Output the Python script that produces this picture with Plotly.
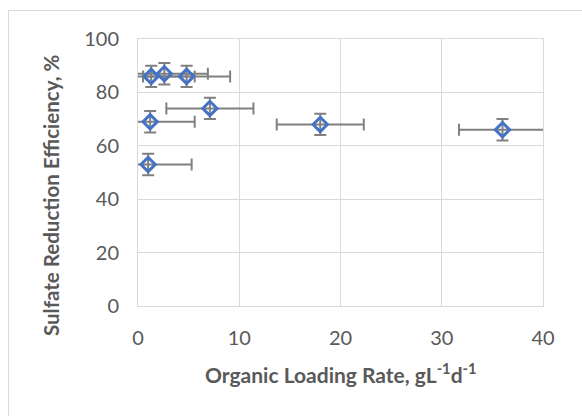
import plotly.graph_objects as go

# Data
olr = [1.3, 2.6, 4.8, 1.2, 7.1, 1.0, 18.0, 36.0]          # Organic loading rate, g/L/d
sre = [86, 87, 86, 69, 74, 53, 68, 66]                    # Sulfate reduction efficiency, %
olr_err = [4.3, 4.3, 4.3, 4.4, 4.3, 4.3, 4.3, 4.3]
sre_err = [4, 4, 4, 4, 4, 4, 4, 4]
x_ticks = [0, 10, 20, 30, 40]
y_ticks = [0, 20, 40, 60, 80, 100]

FONT = "Lato"
GREY = "#595959"
GRID = "#d9d9d9"

fig = go.Figure()
fig.add_trace(go.Scatter(
    x=olr, y=sre, mode="markers",
    marker=dict(symbol="diamond-open", size=11, color="#4472C4",
                line=dict(width=3, color="#4472C4")),
    error_x=dict(type="data", array=olr_err, color="#808080", thickness=2, width=6),
    error_y=dict(type="data", array=sre_err, color="#808080", thickness=2, width=6),
    showlegend=False,
))

axis_common = dict(showgrid=True, gridcolor=GRID, gridwidth=1, zeroline=False,
                   showline=True, linecolor=GRID, linewidth=1, mirror=True,
                   tickfont=dict(family=FONT, size=20, color=GREY),
                   ticks="", tickmode="array", automargin=False)

fig.update_layout(
    width=582, height=416,
    margin=dict(l=138, r=39, t=39, b=110),
    paper_bgcolor="white", plot_bgcolor="white",
    xaxis=dict(range=[0, 40], tickvals=x_ticks, ticklabelstandoff=14, **axis_common),
    yaxis=dict(range=[0, 100], tickvals=y_ticks, ticklabelstandoff=14, **axis_common),
    annotations=[
        dict(text="<b>Organic Loading Rate, gL<sup>-1</sup>d<sup>-1</sup></b>",
             xref="paper", yref="paper", x=0.5, y=(306 - 373) / 267,
             xanchor="center", yanchor="middle", showarrow=False,
             font=dict(family=FONT, size=21, color=GREY)),
        dict(text="<b>Sulfate Reduction Efficiency, %</b>",
             xref="paper", yref="paper", x=(51 - 138) / 405, y=(306 - 196) / 267,
             xanchor="center", yanchor="middle", showarrow=False, textangle=-90,
             font=dict(family=FONT, size=20.5, color=GREY)),
    ],
    shapes=[dict(type="rect", xref="paper", yref="paper",
                 x0=(8.5 - 138) / 405, x1=1.3, y0=-0.6, y1=(306 - 10.5) / 267,
                 line=dict(color=GRID, width=1), fillcolor="rgba(0,0,0,0)")],
)

fig.write_html("out.html", config={"displayModeBar": False},
               post_script="document.body.style.margin='0';")
